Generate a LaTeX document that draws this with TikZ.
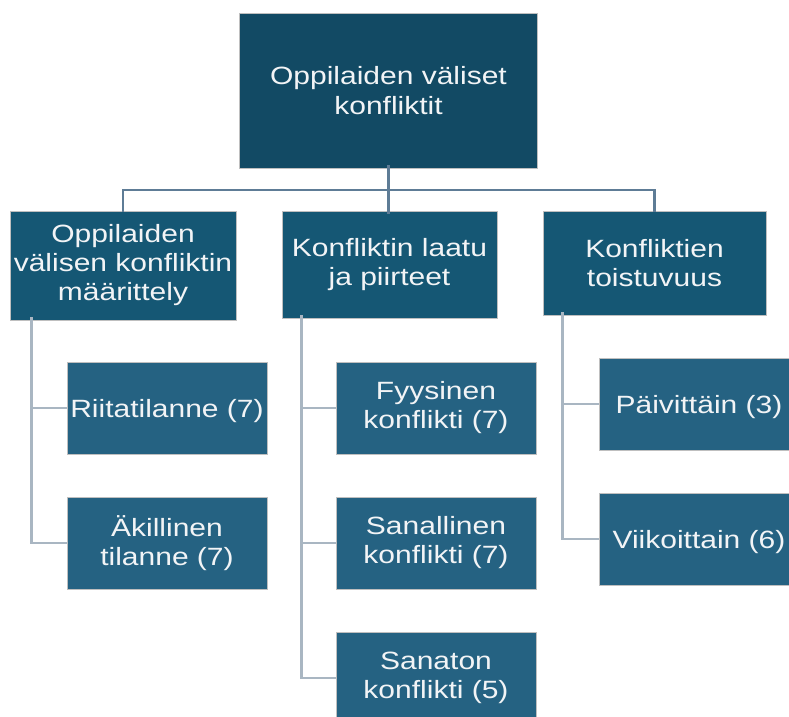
\documentclass[tikz,border=0pt]{standalone}
\usepackage{fontspec}
\setmainfont[FakeStretch=1.2]{Liberation Sans}
\definecolor{rootfill}{HTML}{124A64}
\definecolor{midfill}{HTML}{155774}
\definecolor{leaffill}{HTML}{256282}
\definecolor{rootline}{HTML}{5E7C96}
\definecolor{leafline}{HTML}{A9B6C2}
\definecolor{boxtext}{HTML}{F2F4F6}
\newcommand{\lowered}[1]{\raisebox{-3pt}[\height][\depth]{#1}}
\tikzset{
  box/.style={rectangle, draw=white!75!black, line width=0.7pt, text=boxtext,
    align=center, inner sep=0pt, font=\fontsize{25}{29}\selectfont},
  rootbox/.style={box, fill=rootfill, minimum width=298pt, minimum height=155pt,
    font=\fontsize{25}{30}\selectfont},
  midbox/.style={box, fill=midfill},
  leafbox/.style={box, fill=leaffill, minimum width=200pt, minimum height=92pt},
  rootlink/.style={draw=rootline, line width=2.8pt},
  leaflink/.style={draw=leafline, line width=2.8pt}
}
\begin{document}
\begin{tikzpicture}[x=1pt, y=-1pt]
\clip (0,0) rectangle (789,716);
\fill[white] (0,0) rectangle (789,716);

% top level
\node[rootbox] (root) at (388.5,90.5) {Oppilaiden väliset\\konfliktit};

% second level
\node[midbox, minimum width=226pt, minimum height=109pt] (l1a) at (123,265.5)
  {Oppilaiden\\välisen konfliktin\\määrittely};
\node[midbox, minimum width=215pt, minimum height=107pt] (l1b) at (389.5,264.5)
  {Konfliktin laatu\\ja piirteet};
\node[midbox, minimum width=223pt, minimum height=104pt] (l1c) at (654.5,263)
  {Konfliktien\\toistuvuus};

% leaves
\node[leafbox] (a1) at (167,408) {\lowered{Riitatilanne (7)}};
\node[leafbox] (a2) at (167,543) {Äkillinen\\tilanne (7)};
\node[leafbox] (b1) at (436,408) {Fyysinen\\konflikti (7)};
\node[leafbox] (b2) at (436,543) {Sanallinen\\konflikti (7)};
\node[leafbox] (b3) at (436,678) {Sanaton\\konflikti (5)};
\node[leafbox] (c1) at (699,404) {\lowered{Päivittäin (3)}};
\node[leafbox] (c2) at (699,539) {\lowered{Viikoittain (6)}};

% root connectors
\coordinate (hub) at (root.south |- 0,190);
\draw[rootlink] ([yshift=3pt]root.south) -- ([yshift=-3pt]root.south |- l1b.north);
\draw[rootlink] (hub) -| ([yshift=-1pt]l1a.north);
\draw[rootlink] (hub) -| ([yshift=-1pt]l1c.north);

% leaf connectors
\draw[leaflink] ([xshift=22pt,yshift=3pt]l1a.south west) |- (a1.west);
\draw[leaflink] ([xshift=22pt,yshift=3pt]l1a.south west) |- (a2.west);
\draw[leaflink] ([xshift=20pt,yshift=3pt]l1b.south west) |- (b1.west);
\draw[leaflink] ([xshift=20pt,yshift=3pt]l1b.south west) |- (b2.west);
\draw[leaflink] ([xshift=20pt,yshift=3pt]l1b.south west) |- (b3.west);
\draw[leaflink] ([xshift=20pt,yshift=3pt]l1c.south west) |- (c1.west);
\draw[leaflink] ([xshift=20pt,yshift=3pt]l1c.south west) |- (c2.west);
\end{tikzpicture}
\end{document}
